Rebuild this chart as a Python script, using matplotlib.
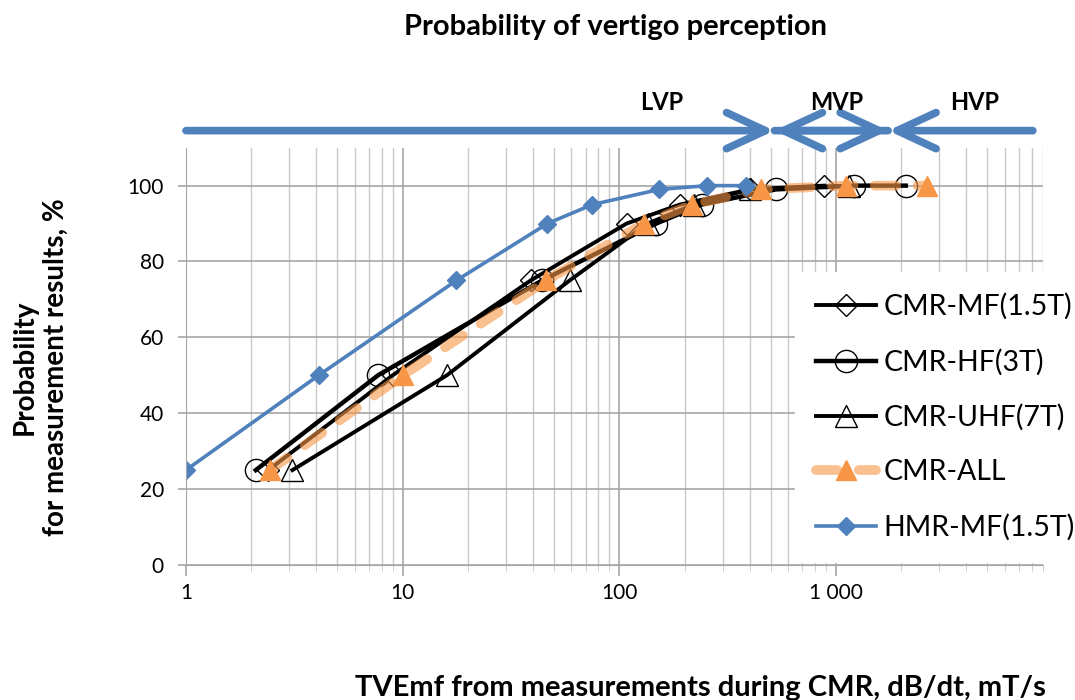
import matplotlib.pyplot as plt
from matplotlib.ticker import LogLocator, NullFormatter

plt.rcParams['font.family'] = ['Lato', 'DejaVu Sans']

# data (x = TVEmf, mT/s ; y = probability, %)
mf_x = [2.4, 9, 39, 108, 190, 400, 880]
mf_y = [25, 50, 75, 90, 95, 99, 100]
hf_x = [2.1, 7.7, 44, 148, 240, 527, 1210, 2100]
hf_y = [25, 50, 75, 90, 95, 99, 100, 100]
uhf_x = [3.1, 16, 59, 135, 220, 400, 1150]
uhf_y = [25, 50, 75, 90, 95, 99, 100]
all_x = [2.44, 10, 46, 130, 217, 451, 1110, 2630]
all_y = [25, 50, 75, 90, 95, 99, 100, 100]
hmr_x = [1, 4.1, 17.7, 46.6, 75, 153, 255, 385]
hmr_y = [25, 50, 75, 90, 95, 99, 100, 100]

zone_names = ['LVP', 'MVP', 'HVP']
zone_bounds = [1, 520, 1740, 8100]

xticks = [1, 10, 100, 1000]
xticklabels = ['1', '10', '100', '1 000']
yticks = [0, 20, 40, 60, 80, 100]

blue = '#4F81BD'
orange = '#F79646'

fig = plt.figure(figsize=(10.75, 7), dpi=100)
ax = fig.add_axes([0.173, 0.193, 0.797, 0.596])

ax.plot(mf_x, mf_y, color='black', lw=2.8, marker='D', ms=11, mfc='none', mec='black', mew=1, label='CMR-MF(1.5T)')
ax.plot(hf_x, hf_y, color='black', lw=3.2, marker='o', ms=16, mfc='none', mec='black', mew=1, label='CMR-HF(3T)')
ax.plot(uhf_x, uhf_y, color='black', lw=2.8, marker='^', ms=16, mfc='none', mec='black', mew=1, label='CMR-UHF(7T)')
ax.plot(all_x, all_y, color=(0.969, 0.588, 0.275, 0.6), lw=7, ls=(0, (2.2, 2.2)), dash_capstyle='round',
        marker='^', ms=15, mfc=orange, mec=orange, label='CMR-ALL')
ax.plot(hmr_x, hmr_y, color=blue, lw=2.6, marker='D', ms=9, mfc=blue, mec=blue, label='HMR-MF(1.5T)')

ax.set_xscale('log')
ax.set_xlim(1, 9000)
ax.set_ylim(0, 110)
ax.set_xticks(xticks)
ax.set_xticklabels(xticklabels)
ax.xaxis.set_minor_locator(LogLocator(base=10, subs=range(2, 10)))
ax.xaxis.set_minor_formatter(NullFormatter())
ax.set_yticks(yticks)

ax.grid(which='major', axis='both', color='#A6A6A6', lw=1.2)
ax.grid(which='minor', axis='x', color='#C8C8C8', lw=1)
ax.set_axisbelow(True)
for s in ['top', 'right']:
    ax.spines[s].set_visible(False)
for s in ['left', 'bottom']:
    ax.spines[s].set_color('#A6A6A6')
ax.tick_params(axis='both', which='major', labelsize=15, color='#A6A6A6', length=6, width=1.2)
ax.tick_params(axis='x', which='major', pad=5, length=8)
ax.tick_params(axis='y', which='major', pad=10)
ax.tick_params(axis='x', which='minor', color='#C8C8C8', length=4)

# zone arrows above the plot
arrow_y = 114.5
props = dict(arrowstyle='->,head_length=1.4,head_width=0.65', color=blue, lw=5.5,
             shrinkA=0, shrinkB=0, mutation_scale=20, capstyle='round', joinstyle='round')
ax.annotate('', xy=(zone_bounds[1], arrow_y), xytext=(zone_bounds[0], arrow_y), arrowprops=props, annotation_clip=False)
ax.annotate('', xy=(zone_bounds[1], arrow_y), xytext=(zone_bounds[2], arrow_y), arrowprops=props, annotation_clip=False)
ax.annotate('', xy=(zone_bounds[2], arrow_y), xytext=(zone_bounds[1], arrow_y), arrowprops=props, annotation_clip=False)
ax.annotate('', xy=(zone_bounds[2], arrow_y), xytext=(zone_bounds[3], arrow_y), arrowprops=props, annotation_clip=False)
for name, xp in zip(zone_names, [157, 1010, 4370]):
    ax.text(xp, 122, name, ha='center', va='center', fontsize=17, fontweight='bold', clip_on=False)

leg = ax.legend(loc='upper left', bbox_to_anchor=(795 / 1075, 1 - 272 / 700), bbox_transform=fig.transFigure,
                fontsize=20.5, frameon=True, framealpha=1, edgecolor='white', fancybox=False,
                borderpad=0.75, borderaxespad=0, handlelength=2.1, handletextpad=0.25, labelspacing=1.0,
                numpoints=1)

fig.text(615 / 1075, 1 - 27 / 700, 'Probability of vertigo perception', ha='center', va='center',
         fontsize=21, fontweight='bold')
fig.text(700 / 1075, 1 - 688 / 700, 'TVEmf from measurements during CMR, dB/dt, mT/s', ha='center', va='center',
         fontsize=21, fontweight='bold')
fig.text(40 / 1075, 1 - 367 / 700, 'Probability\nfor measurement results, %', ha='center', va='center',
         rotation=90, fontsize=20, fontweight='bold', multialignment='center', linespacing=1.25)

fig.savefig('out.png', dpi=100)
